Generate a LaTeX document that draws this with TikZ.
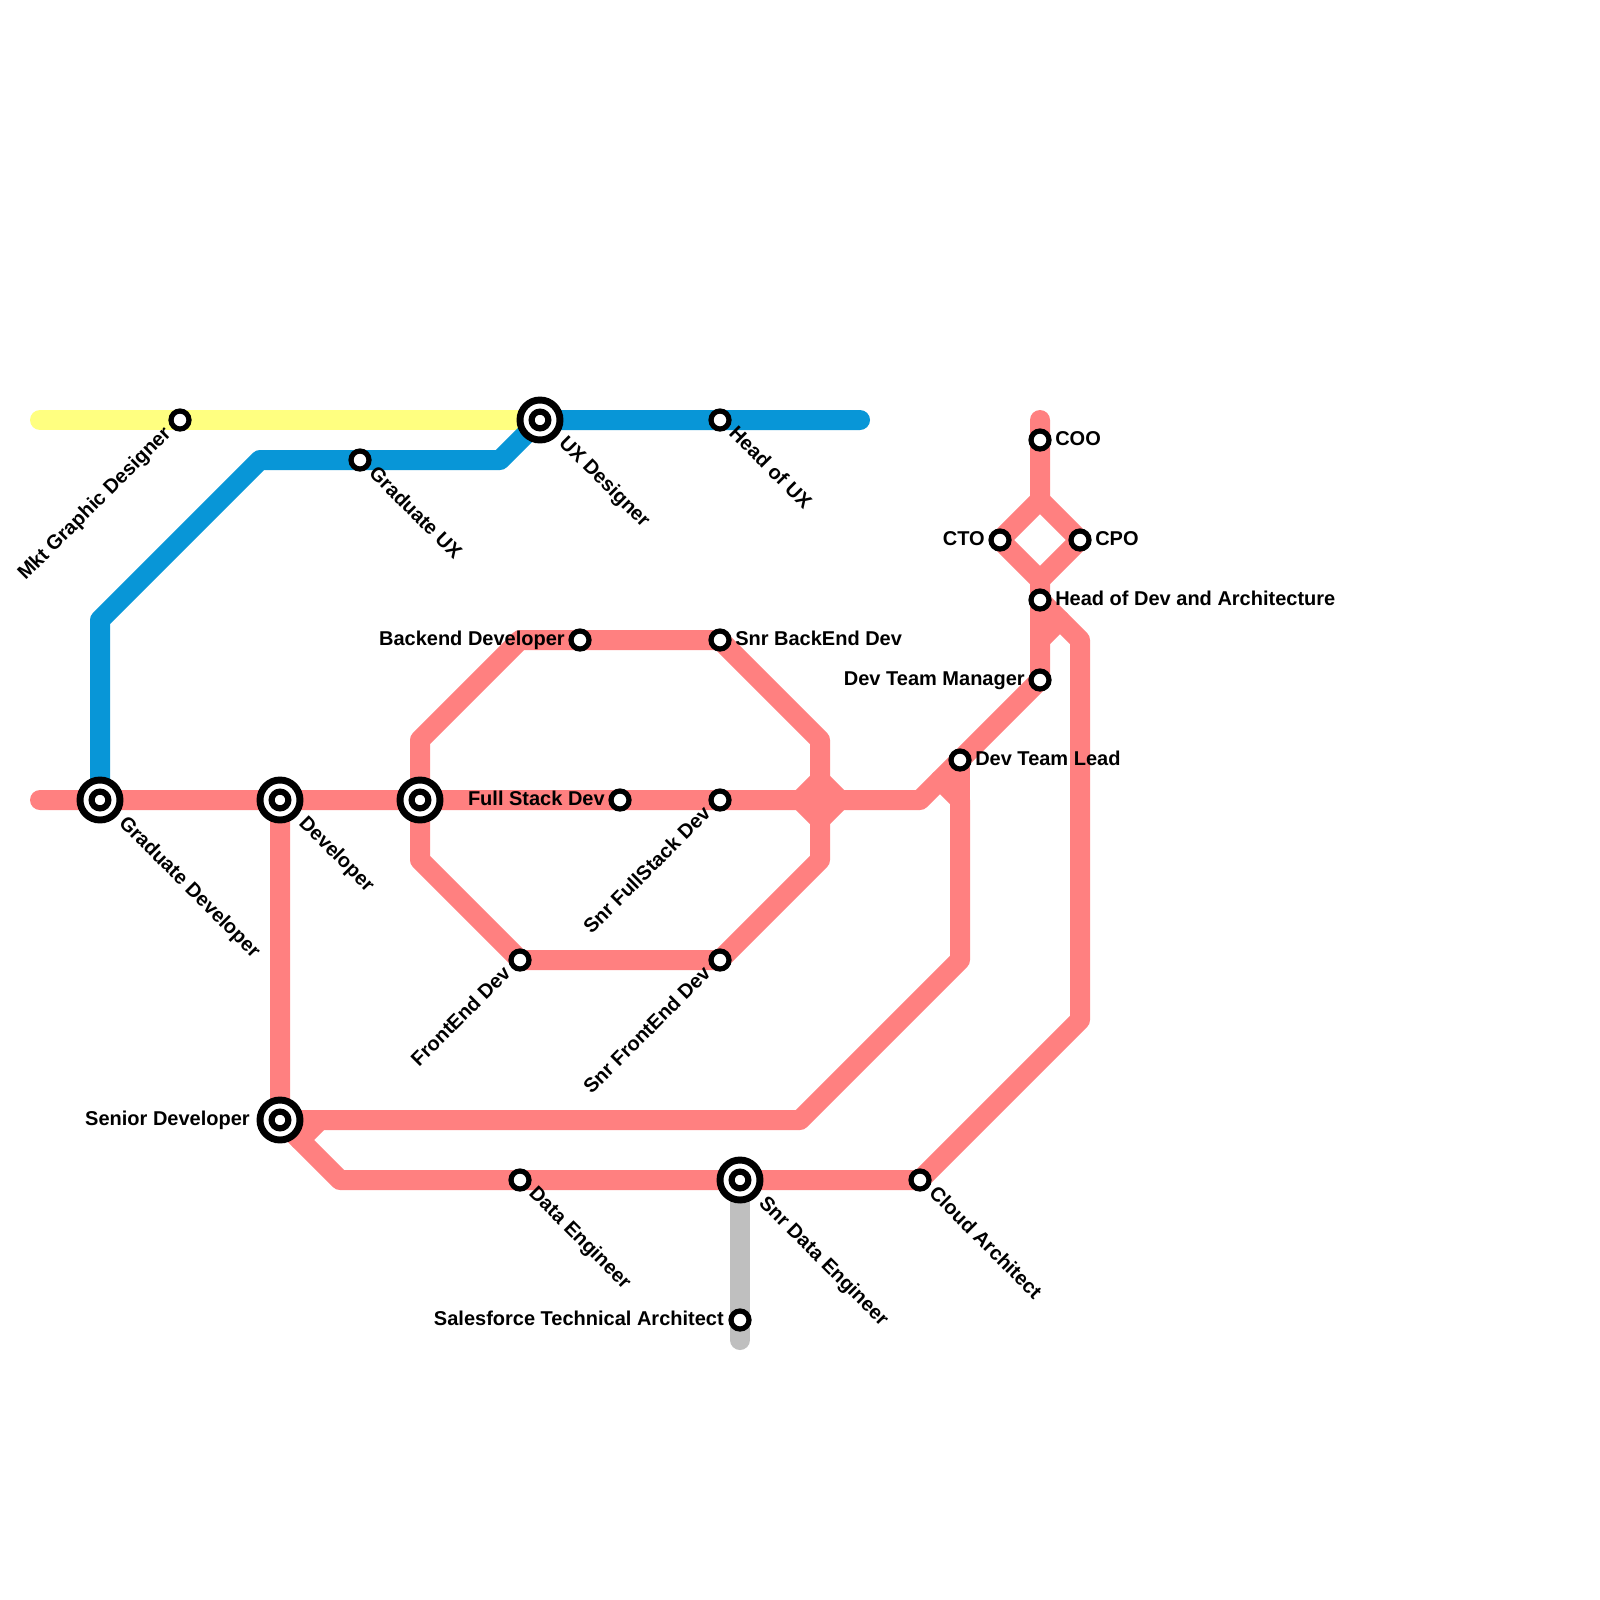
\documentclass[tikz,border=0pt]{standalone}
\usepackage{fontspec}
\setmainfont{Liberation Sans}
\definecolor{pinkline}{HTML}{FF8080}
\definecolor{blueline}{HTML}{0896D7}
\definecolor{yellowline}{HTML}{FFFF80}
\definecolor{greyline}{HTML}{BFBFBF}
\tikzset{
  metro/.style={line width=15pt,line join=round,line cap=round},
  stop/.style={circle,draw=black,fill=white,line width=3.9pt,minimum size=13.5pt,inner sep=0pt,outer sep=0pt},
  hub/.style={circle,draw=black,fill=white,line width=5.2pt,minimum size=30pt,inner sep=0pt,outer sep=0pt},
  hubcore/.style={circle,draw=black,fill=white,line width=4.6pt,minimum size=12.6pt,inner sep=0pt,outer sep=0pt},
  lbl/.style={font=\bfseries\fontsize{15}{18}\selectfont,inner sep=0pt,text=black},
  lblE/.style={lbl,anchor=base west},
  lblW/.style={lbl,anchor=base east},
  lblSE/.style={lbl,anchor=base west,rotate=-45},
  lblNE/.style={lbl,anchor=base east,rotate=45},
}
\begin{document}
\begin{tikzpicture}[x=0.75pt,y=-0.75pt]
\useasboundingbox (0,0) rectangle (1600,1600);
\fill[white] (0,0) rectangle (1600,1600);
% stations
\coordinate (gd) at (100,800);
\coordinate (dev) at (280,800);
\coordinate (hubm) at (420,800);
\coordinate (fs) at (620,800);
\coordinate (sfs) at (720,800);
\coordinate (sd) at (280,1120);
\coordinate (de) at (520,1180);
\coordinate (sde) at (740,1180);
\coordinate (ca) at (920,1180);
\coordinate (sta) at (740,1320);
\coordinate (mkt) at (180,420);
\coordinate (ux) at (540,420);
\coordinate (hux) at (720,420);
\coordinate (gux) at (360,460);
\coordinate (bd) at (580,640);
\coordinate (sbd) at (720,640);
\coordinate (fe) at (520,960);
\coordinate (sfe) at (720,960);
\coordinate (dtl) at (960,760);
\coordinate (dtm) at (1040,680);
\coordinate (hda) at (1040,600);
\coordinate (coo) at (1040,440);
\coordinate (cto) at (1000,540);
\coordinate (cpo) at (1080,540);
% bends
\coordinate (yw) at (40,420);
\coordinate (be) at (860,420);
\coordinate (b1) at (100,620);
\coordinate (b2) at (260,460);
\coordinate (b3) at (500,460);
\coordinate (mw) at (40,800);
\coordinate (m1) at (920,800);
\coordinate (gb) at (740,1340);
\coordinate (o1) at (420,740);
\coordinate (o2) at (520,640);
\coordinate (o3) at (820,740);
\coordinate (o4) at (820,860);
\coordinate (o5) at (420,860);
\coordinate (x1) at (800,800);
\coordinate (x2) at (820,780);
\coordinate (x3) at (840,800);
\coordinate (x4) at (820,820);
\coordinate (s1) at (800,1120);
\coordinate (s2) at (960,960);
\coordinate (s3) at (960,800);
\coordinate (s4) at (940,780);
\coordinate (s5) at (320,1120);
\coordinate (s6) at (300,1140);
\coordinate (d1) at (340,1180);
\coordinate (r1) at (1080,640);
\coordinate (r2) at (1080,1020);
\coordinate (r3) at (1060,620);
\coordinate (r4) at (1040,640);
\coordinate (t1) at (1040,420);
\coordinate (t2) at (1040,500);
\coordinate (t3) at (1040,580);
% lines
\draw[metro,yellowline] (yw) -- (ux);
\draw[metro,blueline] (gd) -- (b1) -- (b2) -- (b3) -- (ux) -- (be);
\draw[metro,greyline] (sde) -- (gb);
\begin{scope}[metro,pinkline]
\draw (mw) -- (m1) -- (dtm) -- (hda) -- (t3) -- (cto) -- (t2) -- (t1);
\draw (t2) -- (cpo) -- (t3);
\draw (hda) -- (r1) -- (r2) -- (ca) -- (d1) -- (sd) -- (dev);
\draw (r4) -- (r3);
\draw (sd) -- (s1) -- (s2) -- (s3) -- (s4);
\draw (dtl) -- (s3);
\draw (s5) -- (s6);
\draw (hubm) -- (o1) -- (o2) -- (sbd) -- (o3) -- (o4) -- (sfe) -- (fe) -- (o5) -- (hubm);
\draw[fill=pinkline] (x1) -- (x2) -- (x3) -- (x4) -- cycle;
\end{scope}
% station markers
\foreach \n in {gd,dev,hubm,sd,sde,ux}{
  \node[hub] (\n-ring) at (\n) {};
  \node[hubcore] (\n-core) at (\n) {};
}
\foreach \n in {fs,sfs,de,ca,sta,mkt,hux,gux,bd,sbd,fe,sfe,dtl,dtm,hda,coo,cto,cpo}{
  \node[stop] (\n-stop) at (\n) {};
}
% labels
\node[lblSE] (l-gd) at (118,824) {Graduate Developer};
\node[lblSE] (l-dev) at (298,824) {Developer};
\node[lblW] (l-fs) at (605,805) {Full Stack Dev};
\node[lblNE] (l-sfs) at (712,814.5) {Snr FullStack Dev};
\node[lblW] (l-sd) at (250,1125) {Senior Developer};
\node[lblSE] (l-de) at (528,1194.5) {Data Engineer};
\node[lblSE] (l-sde) at (758,1204) {Snr Data Engineer};
\node[lblSE] (l-ca) at (928,1194.5) {Cloud Architect};
\node[lblW] (l-sta) at (724,1325) {Salesforce Technical Architect};
\node[lblNE] (l-mkt) at (172,434.5) {Mkt Graphic Designer};
\node[lblSE] (l-ux) at (558,444) {UX Designer};
\node[lblSE] (l-hux) at (728,434.5) {Head of UX};
\node[lblSE] (l-gux) at (368,474.5) {Graduate UX};
\node[lblW] (l-bd) at (565,645) {Backend Developer};
\node[lblE] (l-sbd) at (735,645) {Snr BackEnd Dev};
\node[lblNE] (l-fe) at (512,974.5) {FrontEnd Dev};
\node[lblNE] (l-sfe) at (712,974.5) {Snr FrontEnd Dev};
\node[lblE] (l-dtl) at (975,765) {Dev Team Lead};
\node[lblW] (l-dtm) at (1025,685) {Dev Team Manager};
\node[lblE] (l-hda) at (1055,605) {Head of Dev and Architecture};
\node[lblE] (l-coo) at (1055,445) {COO};
\node[lblW] (l-cto) at (985,545) {CTO};
\node[lblE] (l-cpo) at (1095,545) {CPO};
\end{tikzpicture}
\end{document}
